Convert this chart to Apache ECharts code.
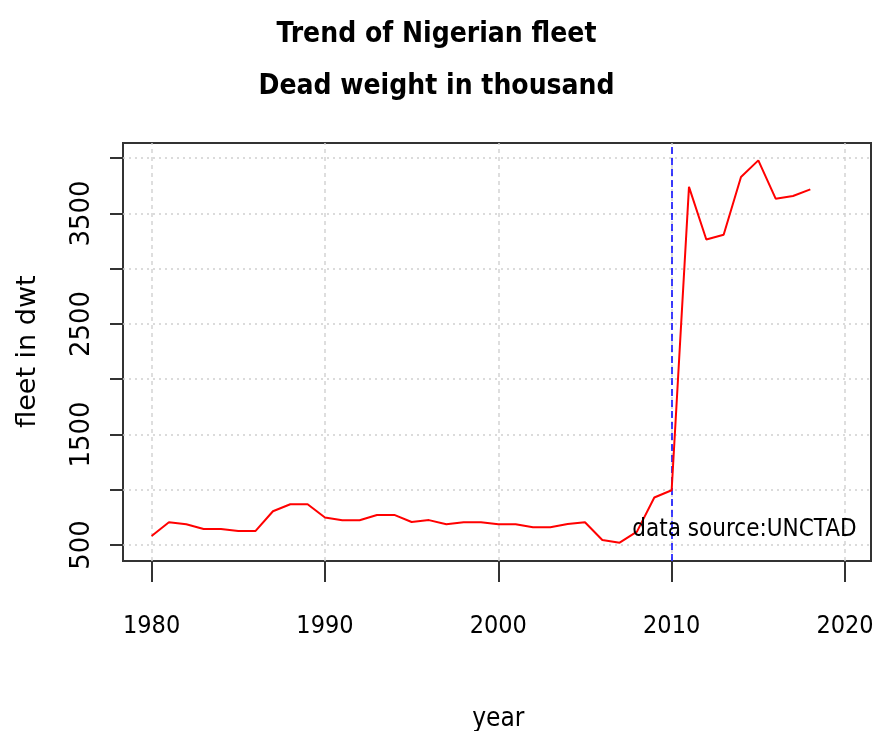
<!DOCTYPE html>
<html>
<head>
<meta charset="utf-8">
<script src="https://cdn.jsdelivr.net/npm/echarts@6/dist/echarts.min.js"></script>
<style>
    html, body { margin: 0; padding: 0; background: #fff; }
    #chart { width: 873px; height: 731px; }
</style>
</head>
<body>
<div id="chart"></div>
<script>
    // data (dead weight, thousand dwt)
    const years = [1980, 1981, 1982, 1983, 1984, 1985, 1986, 1987, 1988, 1989,
                   1990, 1991, 1992, 1993, 1994, 1995, 1996, 1997, 1998, 1999,
                   2000, 2001, 2002, 2003, 2004, 2005, 2006, 2007, 2008, 2009,
                   2010, 2011, 2012, 2013, 2014, 2015, 2016, 2017, 2018];
    const fleet = [582, 706, 688, 645, 645, 627, 627, 805, 869, 869,
                   748, 724, 724, 772, 772, 708, 725, 688, 706, 706,
                   688, 688, 660, 660, 690, 706, 545, 521, 621, 930,
                   995, 3741, 3265, 3308, 3830, 3981, 3634, 3658, 3718];
    const xTicks = [1980, 1990, 2000, 2010, 2020];
    const yTicks = [500, 1000, 1500, 2000, 2500, 3000, 3500, 4000];
    const yLabelled = [500, 1500, 2500, 3500];
    const markYear = 2010;
    const note = { x: 2014.2, y: 640, text: 'data source:UNCTAD' };

    // plot box and the (R style, padded) data range it covers
    const box = { left: 123, top: 143, right: 871, bottom: 561 };
    const xLo = 1978.35, xHi = 2021.5;
    const yLo = 355, yHi = 4138;
    const W = 873, H = 731;

    const px = (x) => box.left + (x - xLo) / (xHi - xLo) * (box.right - box.left);
    const py = (y) => box.bottom - (y - yLo) / (yHi - yLo) * (box.bottom - box.top);

    const narrow = '"DejaVu Sans Condensed", "Liberation Sans Narrow", "Liberation Sans", sans-serif';
    const wide = '"DejaVu Sans", sans-serif';

    const tickGrid = {
        left: px(xTicks[0]),
        right: W - px(xTicks[xTicks.length - 1]),
        top: py(yTicks[yTicks.length - 1]),
        bottom: H - py(yTicks[0])
    };

    let gridLines = [];
    xTicks.forEach((x) => gridLines.push({
        xAxis: x, lineStyle: { color: '#d3d3d3', type: [4, 4], width: 1.5 }
    }));
    yTicks.forEach((y) => gridLines.push({
        yAxis: y, lineStyle: { color: '#cfcfcf', type: [2, 4], width: 1.5 }
    }));
    gridLines.push({
        xAxis: markYear, lineStyle: { color: '#0000ff', type: [7, 4], width: 1.5 }
    });

    const chart = echarts.init(document.getElementById('chart'), null, { renderer: 'canvas' });
    const option = {
        animation: false,
        backgroundColor: '#fff',
        title: {
            text: 'Trend of Nigerian fleet\nDead weight in thousand',
            left: 'center',
            top: 4,
            textStyle: {
                fontFamily: narrow,
                fontWeight: 'bold',
                fontSize: 28,
                lineHeight: 52,
                color: '#000'
            }
        },
        grid: [
            {
                left: box.left, top: box.top,
                width: box.right - box.left, height: box.bottom - box.top,
                show: true, borderColor: '#333', borderWidth: 2,
                outerBoundsMode: 'none', containLabel: false
            },
            {
                left: tickGrid.left, right: tickGrid.right,
                top: tickGrid.top, bottom: tickGrid.bottom,
                outerBoundsMode: 'none', containLabel: false
            }
        ],
        xAxis: [
            { gridIndex: 0, type: 'value', min: xLo, max: xHi, show: false },
            {
                gridIndex: 1, type: 'value', min: 1980, max: 2020, interval: 10,
                offset: box.bottom - py(yTicks[0]),
                name: 'year', nameLocation: 'middle', nameGap: 145,
                nameTextStyle: { fontFamily: narrow, fontSize: 26, color: '#000' },
                axisLine: { show: true, lineStyle: { color: '#333', width: 2 } },
                axisTick: { show: true, length: 21, lineStyle: { color: '#333', width: 2 } },
                axisLabel: {
                    margin: 53, fontFamily: narrow, fontSize: 25, color: '#000',
                    formatter: (v) => String(v)
                },
                splitLine: { show: false }
            }
        ],
        yAxis: [
            { gridIndex: 0, type: 'value', min: yLo, max: yHi, show: false },
            {
                gridIndex: 1, type: 'value', min: 500, max: 4000, interval: 500,
                offset: px(xTicks[0]) - box.left,
                name: 'fleet in dwt', nameLocation: 'middle', nameGap: 82, nameRotate: 90,
                nameTextStyle: { fontFamily: wide, fontSize: 27, color: '#000' },
                axisLine: { show: true, lineStyle: { color: '#333', width: 2 } },
                axisTick: { show: true, length: 13, lineStyle: { color: '#333', width: 2 } },
                axisLabel: {
                    rotate: 90, margin: 28, fontFamily: wide, fontSize: 26, color: '#000',
                    formatter: (v) => yLabelled.indexOf(v) >= 0 ? String(v) : ''
                },
                splitLine: { show: false }
            }
        ],
        series: [
            {
                type: 'line',
                xAxisIndex: 0,
                yAxisIndex: 0,
                data: years.map((y, i) => [y, fleet[i]]),
                showSymbol: false,
                lineStyle: { color: '#ff0000', width: 2 },
                itemStyle: { color: '#ff0000' },
                z: 3,
                markLine: {
                    silent: true,
                    symbol: ['none', 'none'],
                    label: { show: false },
                    data: gridLines,
                    z: 1
                },
                markPoint: {
                    silent: true,
                    symbol: 'circle',
                    symbolSize: 0,
                    data: [{
                        coord: [note.x, note.y],
                        label: {
                            show: true,
                            position: 'inside',
                            formatter: note.text,
                            fontFamily: narrow,
                            fontSize: 24,
                            color: '#000'
                        }
                    }]
                }
            }
        ]
    };
    chart.setOption(option);
</script>
</body>
</html>
